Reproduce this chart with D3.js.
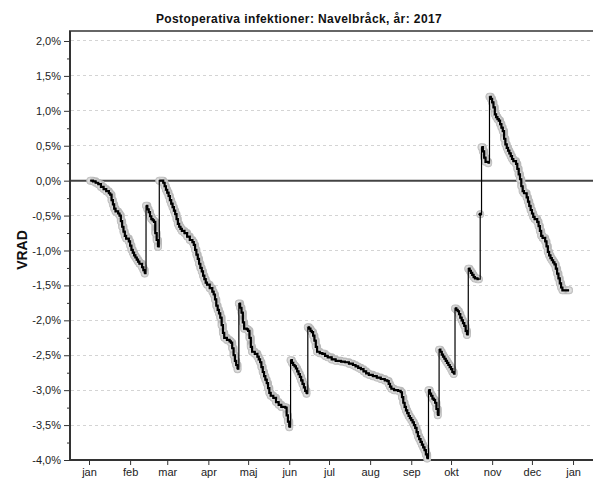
<!DOCTYPE html>
<html><head><meta charset="utf-8">
<script src="https://cdn.jsdelivr.net/npm/d3@7"></script>
<style>body{margin:0;background:#fff}svg{display:block}</style>
</head><body><svg id="c" width="593" height="478"></svg>
<script>
const title = "Postoperativa infektioner: Navelbråck, år: 2017";
const yLabel = "VRAD";
const monthLabels = ["jan","feb","mar","apr","maj","jun","jul","aug","sep","okt","nov","dec","jan"];
const yMajorTicks = [-4,-3.5,-3,-2.5,-2,-1.5,-1,-0.5,0,0.5,1,1.5,2];
const yMinorTicks = [-3.75,-3.25,-2.75,-2.25,-1.75,-1.25,-0.75,-0.25,0.25,0.75,1.25,1.75];
// day of year (days after 2017-01-01) of each operation
const opDay = [
 1,3,5,7,9,11,13,15,16,17,18,19,20,22,23,24,25,26,27,28,30,31,32,33,34,35,36,37,38,40,41,42,
 43,44,45,46,47,48,49,50,51,52,
 53,55,56,57,58,59,60,61,62,63,64,65,66,67,68,69,70,72,74,76,78,79,80,81,82,83,84,85,86,87,88,89,91,93,94,95,96,97,98,99,100,101,102,104,106,107,108,109,110,111,112,
 113,114,115,116,117,119,120,121,122,123,125,127,128,129,130,131,132,133,134,135,136,137,139,141,143,145,148,149,150,151,
 152,153,154,155,156,157,158,159,160,161,162,163,164,
 165,166,167,168,169,170,171,172,174,176,178,180,183,186,190,193,196,199,201,203,205,207,209,211,214,217,220,223,225,226,227,228,230,233,235,236,237,238,239,240,241,242,243,244,245,246,247,248,249,250,251,252,253,254,255,
 256,257,258,259,260,261,262,263,
 264,265,266,267,268,269,270,271,272,273,274,275,
 276,277,278,279,280,281,282,283,284,285,
 286,287,288,289,290,291,293,294,
 295,
 296,297,298,299,301,
 302,303,304,305,306,307,308,309,310,311,312,313,314,315,316,317,318,319,320,322,323,324,325,326,327,328,330,331,332,333,334,335,336,338,339,340,341,342,344,345,346,347,348,349,350,351,352,353,354,355,356,357,362
];
// VRAD value in percent after each operation
const vrad = [
 0.00,-0.01,-0.03,-0.05,-0.09,-0.12,-0.15,-0.18,-0.20,-0.28,-0.34,-0.40,-0.44,-0.47,-0.50,-0.58,-0.66,-0.73,-0.79,-0.83,-0.87,-0.93,-0.99,-1.03,-1.07,-1.10,-1.13,-1.16,-1.19,-1.24,-1.28,-1.33,
 -0.36,-0.41,-0.45,-0.51,-0.55,-0.57,-0.59,-0.75,-0.85,-0.95,
 0.00,0.00,-0.03,-0.08,-0.13,-0.17,-0.22,-0.28,-0.33,-0.38,-0.43,-0.48,-0.55,-0.62,-0.66,-0.69,-0.72,-0.75,-0.80,-0.85,-0.88,-0.92,-0.99,-1.06,-1.12,-1.19,-1.25,-1.30,-1.36,-1.41,-1.46,-1.49,-1.54,-1.59,-1.63,-1.70,-1.79,-1.85,-1.90,-1.96,-2.07,-2.18,-2.25,-2.28,-2.30,-2.32,-2.40,-2.50,-2.58,-2.64,-2.70,
 -1.76,-1.82,-1.89,-2.03,-2.12,-2.13,-2.15,-2.25,-2.38,-2.45,-2.48,-2.52,-2.56,-2.60,-2.67,-2.74,-2.80,-2.85,-2.90,-2.97,-3.04,-3.08,-3.11,-3.17,-3.21,-3.24,-3.25,-3.36,-3.45,-3.53,
 -2.57,-2.61,-2.64,-2.66,-2.69,-2.73,-2.77,-2.81,-2.86,-2.91,-2.96,-3.01,-3.05,
 -2.10,-2.12,-2.15,-2.17,-2.22,-2.29,-2.38,-2.45,-2.47,-2.48,-2.51,-2.53,-2.56,-2.58,-2.59,-2.60,-2.62,-2.64,-2.66,-2.68,-2.70,-2.73,-2.76,-2.78,-2.80,-2.82,-2.84,-2.86,-2.87,-2.91,-2.95,-2.98,-3.00,-3.01,-3.03,-3.10,-3.18,-3.24,-3.29,-3.33,-3.37,-3.40,-3.43,-3.46,-3.50,-3.54,-3.60,-3.66,-3.70,-3.74,-3.78,-3.82,-3.86,-3.92,-3.98,
 -3.00,-3.05,-3.08,-3.12,-3.14,-3.18,-3.27,-3.36,
 -2.42,-2.45,-2.49,-2.52,-2.55,-2.58,-2.61,-2.64,-2.67,-2.70,-2.74,-2.77,
 -1.83,-1.85,-1.87,-1.91,-1.96,-2.00,-2.04,-2.08,-2.15,-2.21,
 -1.26,-1.29,-1.32,-1.35,-1.38,-1.40,-1.41,-1.41,
 -0.48,
 0.48,0.42,0.33,0.27,0.25,
 1.20,1.17,1.12,1.05,0.95,0.91,0.88,0.86,0.81,0.76,0.71,0.60,0.52,0.47,0.43,0.39,0.35,0.31,0.28,0.24,0.17,0.09,0.02,-0.08,-0.15,-0.18,-0.24,-0.30,-0.36,-0.42,-0.47,-0.52,-0.55,-0.59,-0.65,-0.72,-0.79,-0.82,-0.87,-0.94,-1.02,-1.07,-1.11,-1.14,-1.17,-1.20,-1.26,-1.33,-1.40,-1.47,-1.53,-1.57,-1.57
];

const DAY = 864e5, T0 = Date.UTC(2017,0,1);
const toDate = d => new Date(T0 + d*DAY);
const data = opDay.map((d,i)=>({date: toDate(d), v: vrad[i]}));

const L = 70, R = 592, T = 31, B = 460;
const x = d3.scaleUtc().domain([toDate(-14.33), toDate(379.3)]).range([L, R]);
const y = d3.scaleLinear().domain([-4, 2.143]).range([B, T]);

const svg = d3.select("#c");
const font = "'Liberation Sans', Arial, sans-serif";

// title
svg.append("text").attr("x", 299).attr("y", 23).attr("text-anchor","middle")
  .attr("font-family", font).attr("font-weight","bold").attr("font-size", 12)
  .attr("letter-spacing", 0.4).attr("fill","#111").text(title);

// y label
svg.append("text").attr("transform","translate(27,250) rotate(-90)").attr("text-anchor","middle")
  .attr("font-family", font).attr("font-weight","bold").attr("font-size", 14).attr("fill","#111").text(yLabel);

// grid
svg.append("g").selectAll("line").data(yMajorTicks.filter(t => t !== 0 && t !== -4)).join("line")
  .attr("x1", L+1).attr("x2", R).attr("y1", d=>y(d)).attr("y2", d=>y(d))
  .attr("stroke","#d4d4d4").attr("stroke-width",1).attr("stroke-dasharray","3,3").attr("shape-rendering","crispEdges");

// zero line
svg.append("line").attr("x1",L).attr("x2",593).attr("y1",y(0)).attr("y2",y(0))
  .attr("stroke","#444").attr("stroke-width",2);

// y axis
const gy = svg.append("g").attr("transform",`translate(${L},0)`)
  .call(d3.axisLeft(y).tickValues(yMajorTicks).tickSize(6).tickPadding(3)
    .tickFormat(d => d.toFixed(1).replace(".", ",") + "%"));
gy.select(".domain").remove();
gy.selectAll("line").attr("stroke","#333");
gy.selectAll("text").attr("font-family", font).attr("font-size", 11).attr("fill","#222");
const gym = svg.append("g").attr("transform",`translate(${L},0)`)
  .call(d3.axisLeft(y).tickValues(yMinorTicks).tickSize(3).tickFormat(""));
gym.select(".domain").remove();
gym.selectAll("line").attr("stroke","#333");

// x axis
const months = d3.utcMonth.range(new Date(Date.UTC(2017,0,1)), new Date(Date.UTC(2018,0,2)));
const gx = svg.append("g").attr("transform",`translate(0,${B})`)
  .call(d3.axisBottom(x).tickValues(months).tickSize(5).tickPadding(3)
    .tickFormat((d,i) => monthLabels[i]));
gx.select(".domain").remove();
gx.selectAll("line").attr("stroke","#333");
gx.selectAll("text").attr("font-family", font).attr("font-size", 11).attr("fill","#222");

// frame lines
svg.append("line").attr("x1",L).attr("x2",L).attr("y1",T).attr("y2",B+1).attr("stroke","#333").attr("stroke-width",2);
svg.append("line").attr("x1",L).attr("x2",593).attr("y1",B).attr("y2",B).attr("stroke","#333").attr("stroke-width",2);
svg.append("line").attr("x1",L-1).attr("x2",593).attr("y1",T).attr("y2",T).attr("stroke","#333").attr("stroke-width",1.5);

// split into runs between infections (jumps up)
const runs = [];
data.forEach((p,i) => {
  if (i === 0 || p.v > data[i-1].v + 0.1) runs.push([]);
  runs[runs.length-1].push(p);
});

const line = d3.line().x(d=>x(d.date)).y(d=>y(d.v)).curve(d3.curveStepAfter);
const gl = svg.append("g");
// halo band
gl.selectAll(".halo").data(runs).join("path").attr("d", line)
  .attr("fill","none").attr("stroke","#b9b9b9").attr("stroke-width",8)
  .attr("stroke-linecap","round").attr("stroke-linejoin","round");
gl.selectAll(".pt").data(data).join("circle")
  .attr("cx", d=>x(d.date)).attr("cy", d=>y(d.v)).attr("r", 3.3)
  .attr("fill","#dedede").attr("stroke","#c2c2c2").attr("stroke-width",0.8);
// thin connecting line
gl.append("path").datum(data).attr("d", line).attr("fill","none").attr("stroke","#000").attr("stroke-width",1.2);
// thick run lines
gl.selectAll(".run").data(runs).join("path").attr("d", line)
  .attr("fill","none").attr("stroke","#000").attr("stroke-width",2.2).attr("stroke-linejoin","miter");
gl.selectAll(".dot").data(runs.filter(r=>r.length===1)).join("circle")
  .attr("cx", r=>x(r[0].date)).attr("cy", r=>y(r[0].v)).attr("r", 1.8).attr("fill","#000");
</script></body></html>
